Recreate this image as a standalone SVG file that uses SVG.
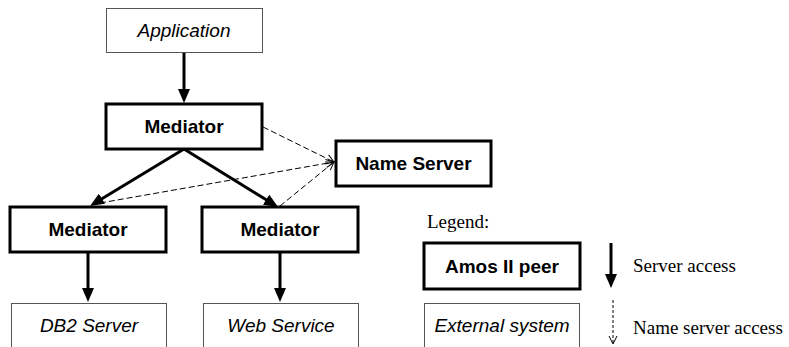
<svg xmlns="http://www.w3.org/2000/svg" width="789" height="347" viewBox="0 0 789 347">
<style>
.thick{fill:#fff;stroke:#000;stroke-width:3}
.thin{fill:#fff;stroke:#555;stroke-width:1}
.b{font-family:"Liberation Sans",Arial,sans-serif;font-weight:bold;font-size:19px;text-anchor:middle;fill:#000}
.i{font-family:"Liberation Sans",Arial,sans-serif;font-style:italic;font-size:19px;text-anchor:middle;fill:#000}
.s{font-family:"Liberation Serif","Times New Roman",serif;font-size:19px;fill:#000}
.solid{stroke:#000;stroke-width:3;fill:none}
.dash{stroke:#000;stroke-width:1;fill:none;stroke-dasharray:6,3}
</style>
<defs>
<marker id="ah" markerUnits="userSpaceOnUse" markerWidth="14" markerHeight="12" refX="4" refY="6" orient="auto" viewBox="0 0 14 12">
<path d="M0,0 L14,6 L0,12 z" fill="#000"/>
</marker>
<marker id="oh" markerUnits="userSpaceOnUse" markerWidth="10" markerHeight="10" refX="8" refY="4" orient="auto" viewBox="-1 -1 10 10">
<path d="M0,0 L8,4 L0,8" fill="none" stroke="#000" stroke-width="1"/>
</marker>
</defs>
<g id="connectors">
<line class="solid" x1="184" y1="52" x2="184" y2="93" marker-end="url(#ah)"/>
<line class="solid" x1="184" y1="149" x2="98.6" y2="200.8" marker-end="url(#ah)"/>
<line class="solid" x1="184" y1="149" x2="269.5" y2="201.8" marker-end="url(#ah)"/>
<line class="solid" x1="88" y1="252" x2="88" y2="292" marker-end="url(#ah)"/>
<line class="solid" x1="280" y1="252" x2="280" y2="292" marker-end="url(#ah)"/>
<line class="dash" x1="263" y1="127" x2="334" y2="162" marker-end="url(#oh)"/>
<line class="dash" x1="100" y1="203" x2="334" y2="162" marker-end="url(#oh)"/>
<line class="dash" x1="280" y1="206" x2="334" y2="162" marker-end="url(#oh)"/>
</g>
<g id="application">
<rect class="thin" x="106.5" y="8.5" width="156" height="44"/>
<text class="i" x="184" y="37">Application</text>
</g>
<g id="mediator-top">
<rect class="thick" x="106" y="104" width="156" height="45"/>
<text class="b" x="184" y="133">Mediator</text>
</g>
<g id="name-server">
<rect class="thick" x="336" y="141" width="155" height="45"/>
<text class="b" x="413.5" y="170">Name Server</text>
</g>
<g id="mediator-left">
<rect class="thick" x="10" y="207" width="156" height="45"/>
<text class="b" x="88" y="236">Mediator</text>
</g>
<g id="mediator-right">
<rect class="thick" x="202" y="207" width="156" height="45"/>
<text class="b" x="280" y="236">Mediator</text>
</g>
<g id="db2-server">
<rect class="thin" x="11.5" y="303.5" width="155" height="60"/>
<text class="i" x="89" y="332">DB2 Server</text>
</g>
<g id="web-service">
<rect class="thin" x="203.5" y="303.5" width="155" height="60"/>
<text class="i" x="281" y="332">Web Service</text>
</g>
<g id="legend">
<text class="s" x="427" y="228">Legend:</text>
<rect class="thick" x="424" y="243" width="156" height="46"/>
<text class="b" x="502" y="273">Amos II peer</text>
<rect class="thin" x="424.5" y="303.5" width="155" height="60"/>
<text class="i" x="502" y="332">External system</text>
<line class="solid" x1="611" y1="243" x2="611" y2="278" marker-end="url(#ah)"/>
<text class="s" x="633" y="272">Server access</text>
<line stroke="#000" stroke-width="1" stroke-dasharray="3,2" x1="613" y1="300" x2="613" y2="344" marker-end="url(#oh)"/>
<text class="s" x="633" y="334">Name server access</text>
</g>
</svg>
